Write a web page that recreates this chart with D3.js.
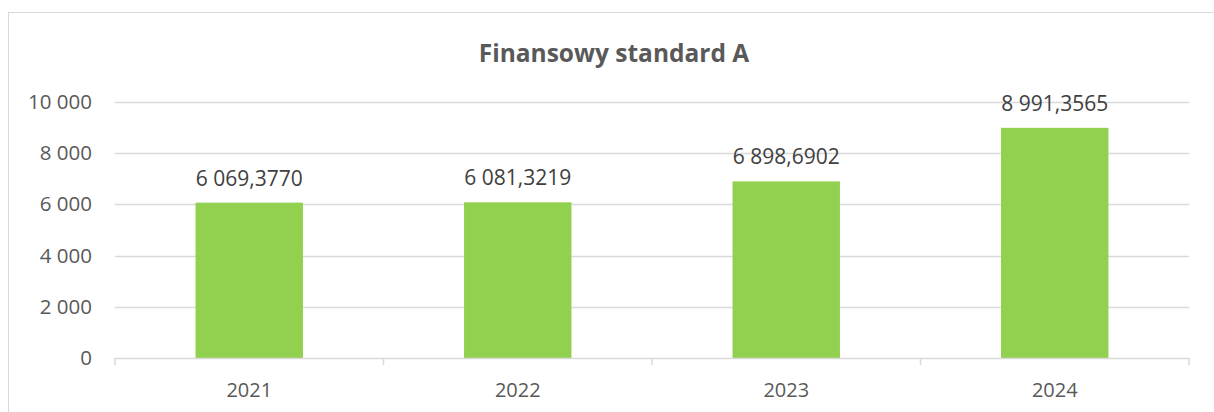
<!DOCTYPE html>
<html>
<head>
<meta charset="utf-8">
<script src="https://cdn.jsdelivr.net/npm/d3@7"></script>
<style>
  body { margin: 0; background: #fff; }
  svg { display: block; font-family: "Open Sans", Lato, sans-serif; }
</style>
</head>
<body>
<script>
const years = ["2021", "2022", "2023", "2024"];
const values = [6069.3770, 6081.3219, 6898.6902, 8991.3565];
const yTicks = [0, 2000, 4000, 6000, 8000, 10000];
const title = "Finansowy standard A";

const width = 1214, height = 412;
const plotLeft = 115, plotRight = 1189, plotTop = 102, plotBottom = 358;

const pl = d3.formatLocale({ decimal: ",", thousands: "\u00a0", grouping: [3], currency: ["", ""] });
const fmtTick = pl.format(",.0f");
const fmtVal = pl.format(",.4f");

const svg = d3.select("body").append("svg")
    .attr("width", width)
    .attr("height", height);

// chart frame (only top & left fall inside the picture)
svg.append("rect")
    .attr("x", 8.5).attr("y", 12.5)
    .attr("width", 1230).attr("height", 430)
    .attr("fill", "#fff")
    .attr("stroke", "#d9d9d9");

svg.append("text")
    .attr("x", 614)
    .attr("y", 62)
    .attr("text-anchor", "middle")
    .attr("font-size", "24.5px")
    .attr("font-weight", "bold")
    .attr("fill", "#595959")
    .text(title);

const x = d3.scaleBand().domain(years).range([plotLeft, plotRight]).paddingInner(0.6).paddingOuter(0.3);
const y = d3.scaleLinear().domain([0, 10000]).range([plotBottom, plotTop]);

// gridlines
svg.append("g")
    .selectAll("line")
    .data(yTicks.filter(d => d > 0))
    .join("line")
    .attr("x1", plotLeft).attr("x2", plotRight)
    .attr("y1", d => Math.round(y(d)) + 0.5)
    .attr("y2", d => Math.round(y(d)) + 0.5)
    .attr("stroke", "#d9d9d9")
    .attr("stroke-width", 1.5);

// y labels
svg.append("g")
    .selectAll("text")
    .data(yTicks)
    .join("text")
    .attr("x", 92)
    .attr("y", d => y(d) + 7)
    .attr("text-anchor", "end")
    .attr("font-size", "20.5px")
    .attr("fill", "#595959")
    .text(d => fmtTick(d));

// bars
svg.append("g")
    .selectAll("rect")
    .data(values)
    .join("rect")
    .attr("x", (d, i) => x(years[i]))
    .attr("width", x.bandwidth())
    .attr("y", d => y(d))
    .attr("height", d => plotBottom - y(d))
    .attr("fill", "#92d050");

// value labels
svg.append("g")
    .selectAll("text")
    .data(values)
    .join("text")
    .attr("x", (d, i) => x(years[i]) + x.bandwidth() / 2)
    .attr("y", d => y(d) - 17)
    .attr("text-anchor", "middle")
    .attr("font-size", "21px")
    .attr("fill", "#404040")
    .text(d => fmtVal(d));

// x axis line + ticks
const step = (plotRight - plotLeft) / years.length;
svg.append("line")
    .attr("x1", plotLeft).attr("x2", plotRight)
    .attr("y1", plotBottom + 0.5).attr("y2", plotBottom + 0.5)
    .attr("stroke", "#d9d9d9").attr("stroke-width", 1.5);
svg.append("g")
    .selectAll("line")
    .data(d3.range(years.length + 1))
    .join("line")
    .attr("x1", i => plotLeft + i * step).attr("x2", i => plotLeft + i * step)
    .attr("y1", plotBottom).attr("y2", plotBottom + 7)
    .attr("stroke", "#d9d9d9").attr("stroke-width", 1.5);

svg.append("g")
    .selectAll("text")
    .data(years)
    .join("text")
    .attr("x", d => x(d) + x.bandwidth() / 2)
    .attr("y", 397)
    .attr("text-anchor", "middle")
    .attr("font-size", "20px")
    .attr("fill", "#595959")
    .text(d => d);
</script>
</body>
</html>
